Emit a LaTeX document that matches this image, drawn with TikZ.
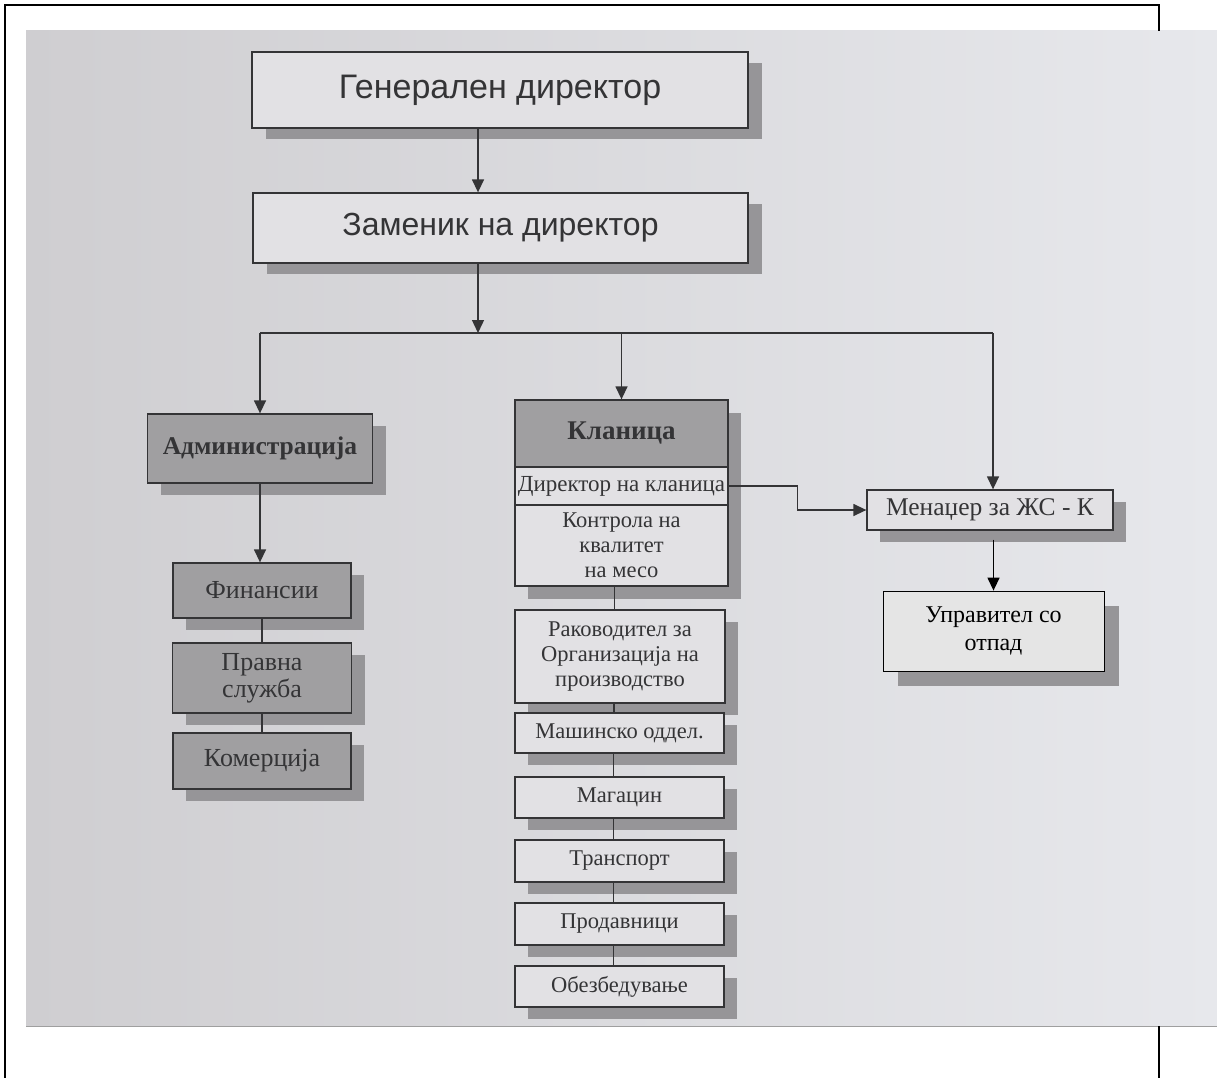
\documentclass[tikz,border=0pt]{standalone}
\usepackage{fontspec}
\setmainfont{Liberation Serif}
\newfontfamily\headsans{Liberation Sans}
\usetikzlibrary{arrows.meta,shadows,calc}
\definecolor{bgL}{RGB}{207,206,209}
\definecolor{bgR}{RGB}{231,232,236}
\definecolor{boxlight}{RGB}{226,225,228}
\definecolor{boxdark}{RGB}{160,159,161}
\definecolor{shad}{RGB}{150,149,152}
\definecolor{ink}{RGB}{52,52,54}
\definecolor{uprfill}{RGB}{229,229,229}
\begin{document}
\begin{tikzpicture}[x=1pt,y=-1pt,
  box/.style={draw=ink, line width=1.3pt, text=ink, inner sep=0pt, align=center,
    font=\fontsize{22.5}{25}\selectfont},
  sz/.style 2 args={minimum width=#1pt, minimum height=#2pt},
  light/.style={fill=boxlight},
  dark/.style={fill=boxdark},
  big/.style={font=\fontsize{26}{27}\selectfont},
  shadowed/.style={drop shadow={shadow xshift=13pt, shadow yshift=-12pt, fill=shad, opacity=1}},
  topbox/.style={box, light,
    drop shadow={shadow xshift=14pt, shadow yshift=-11pt, fill=shad, opacity=1}},
  conn/.style={draw=ink, line width=1.4pt},
  arr/.style={conn, -{Triangle[length=13pt,width=12pt]}},
  uprbox/.style={draw=black, line width=0.8pt, fill=uprfill, text=black, inner sep=0pt,
    align=center, font=\fontsize{24}{28}\selectfont,
    drop shadow={shadow xshift=15pt, shadow yshift=-15pt, fill=shad, opacity=1}}
]
\useasboundingbox (0,0) rectangle (1217,1078);
% photo background
\shade[left color=bgL, right color=bgR] (26,31) rectangle (1217,1026);
\draw[gray!75, line width=0.8pt] (26,1026) -- (1217,1026);
% page frame
\draw[black, line width=2pt] (1159,31) -- (1159,5) -- (5,5) -- (5,1078);
\draw[black, line width=2pt] (1159,1026) -- (1159,1078);

% top boxes
\node[topbox, sz={496}{76}, font=\headsans\fontsize{34}{38}\selectfont] (gen) at (500,90) {Генерален директор};
\node[topbox, sz={495}{70}, font=\headsans\fontsize{32}{36}\selectfont] (zam) at (500.5,228) {Заменик на директор};

% administration
\node[box, dark, shadowed, sz={225}{69}, font=\bfseries\fontsize{25.5}{28}\selectfont] (adm) at (260,448.5) {Администрација};
\node[box, dark, shadowed, sz={178}{55}, big] (fin) at (262,590.5) {Финансии};
\node[box, dark, shadowed, sz={179}{70}, big] (prav) at (262,678) {Правна\\служба};
\node[box, dark, shadowed, sz={178}{56}, big] (kom) at (262,761) {Комерција};

% slaughterhouse group
\fill[shad] (528,413) rectangle (741,599);
\node[box, dark, sz={213}{67}, font=\bfseries\fontsize{27}{30}\selectfont] (klan) at (621.5,433.5) {Кланица};
\node[box, light, sz={213}{38}, font=\fontsize{23}{25}\selectfont] (dir) at (621.5,486) {Директор на кланица};
\node[box, light, sz={213}{81}] (kon) at (621.5,545.5) {Контрола на\\квалитет\\на месо};
\node[box, light, shadowed, sz={210}{93}] (rak) at (620,656.5) {Раководител за\\Организација на\\производство};
\node[box, light, shadowed, sz={209}{40}] (mash) at (619.5,733) {Машинско оддел.};
\node[box, light, shadowed, sz={209}{41}] (mag) at (619.5,797.5) {Магацин};
\node[box, light, shadowed, sz={209}{42}] (tr) at (619.5,861) {Транспорт};
\node[box, light, shadowed, sz={209}{42}] (prod) at (619.5,924) {Продавници};
\node[box, light, shadowed, sz={209}{41}] (obez) at (619.5,986.5) {Обезбедување};

% manager branch
\node[box, light, shadowed, sz={246}{40}, font=\fontsize{25.5}{28}\selectfont] (men) at (990,510) {Менаџер за ЖС - К};
\node[uprbox, sz={221}{80}] (upr) at (993.5,631) {Управител со\\отпад};

% connectors
\coordinate (bus) at (478,333);
\coordinate (busL) at (260,333);
\coordinate (busM) at (621.5,333);
\coordinate (busR) at (993,333);
\draw[arr] (gen.south -| bus) -- (zam.north -| bus);
\draw[arr] (zam.south -| bus) -- (bus);
\draw[conn] (busL) -- (busR);
\draw[arr] (busL) -- (adm.north -| busL);
\draw[arr] (busM) -- (klan.north);
\draw[arr] (busR) -- (men.north -| busR);

\draw[arr] (adm.south) -- (adm.south |- fin.north);
\draw[conn] (fin.south) -- (prav.north);
\draw[conn] (prav.south) -- (kom.north);

\draw[conn] ([xshift=-7pt]kon.south) -- ([xshift=-7pt]kon.south |- rak.north);
\draw[conn] ([xshift=-6pt]rak.south) -- ([xshift=-6pt]rak.south |- mash.north);
\draw[conn] ([xshift=-6pt]mash.south) -- ([xshift=-6pt]mash.south |- mag.north);
\draw[conn] ([xshift=-6pt]mag.south) -- ([xshift=-6pt]mag.south |- tr.north);
\draw[conn] ([xshift=-6pt]tr.south) -- ([xshift=-6pt]tr.south |- prod.north);
\draw[conn] ([xshift=-6pt]prod.south) -- ([xshift=-6pt]prod.south |- obez.north);

\draw[arr] (dir.east) -- ++(69,0) |- (men.west);
\draw[conn, draw=black, -{Triangle[length=13pt,width=12pt]}] ([yshift=-9pt]men.south -| upr.north) -- (upr.north);
\end{tikzpicture}
\end{document}
